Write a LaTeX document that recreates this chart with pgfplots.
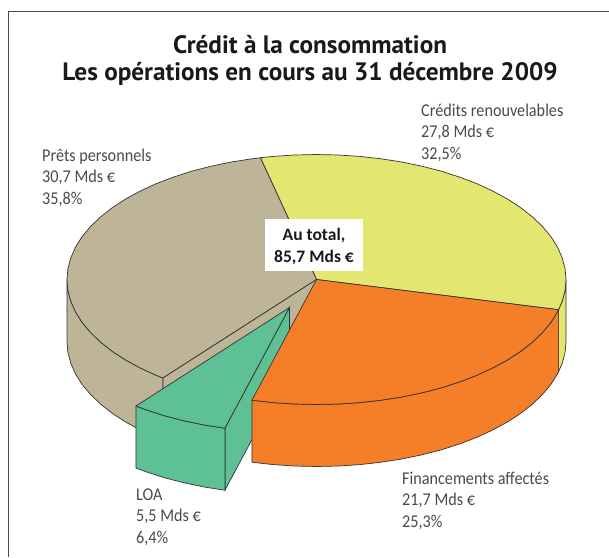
\documentclass[border=0pt]{standalone}
\usepackage{pgfplots}
\pgfplotsset{compat=1.18}
\usepackage{fontspec}
\setmainfont[FakeStretch=0.9]{Carlito}
\newfontfamily\boxfont{Carlito}
\newfontfamily\titlefont{PT Sans}
\definecolor{taupe}{HTML}{BEB498}
\definecolor{jaune}{HTML}{E3E76F}
\definecolor{orangec}{HTML}{F57F29}
\definecolor{vert}{HTML}{5DC195}
\definecolor{trait}{HTML}{333333}
\definecolor{texte}{HTML}{4A4A4A}
\begin{document}
\begin{tikzpicture}
\path[use as bounding box] (0,0) rectangle (609pt,557pt);
\begin{axis}[at={(0,0)},anchor=south west,hide axis,scale only axis,width=609pt,height=557pt,
  xmin=0,xmax=609,ymin=0,ymax=557,y dir=reverse,clip=false]
% frame
\addplot[draw=black!70,line width=1pt] coordinates {(609,11)(8,11)(8,557)};
% taupe side
\addplot[draw=trait,fill=taupe,line width=0.7pt] coordinates {(67,279.5)(67.9,290.4)(70.8,301.2)(75.5,311.9)(82,322.3)(90.4,332.3)(100.4,342)(112.1,351.2)(125.4,359.9)(140.1,367.9)(156.1,375.3)(162.9,378)(162.9,440)(156.1,437.3)(140.1,429.9)(125.4,421.9)(112.1,413.2)(100.4,404)(90.4,394.3)(82,384.3)(75.5,373.9)(70.8,363.2)(67.9,352.4)(67,341.5)} --cycle;
% yellow side
\addplot[draw=trait,fill=jaune,line width=0.7pt] coordinates {(558.6,309.7)(562.2,301.2)(565.1,290.4)(566,279.5)(566,341.5)(565.1,352.4)(562.2,363.2)(558.6,371.7)} --cycle;
% yellow top
\addplot[draw=trait,fill=jaune,line width=0.7pt] coordinates {(316.5,279.5)(558.6,309.7)(562.2,301.2)(565.1,290.4)(566,279.5)(565.1,268.6)(562.2,257.8)(557.5,247.1)(551,236.7)(542.6,226.7)(532.6,217)(520.9,207.8)(507.6,199.1)(492.9,191.1)(476.9,183.7)(459.6,177.1)(441.3,171.2)(421.9,166.2)(401.8,162)(381.1,158.8)(359.8,156.4)(338.3,155)(316.5,154.5)(294.7,155)(273.2,156.4)(260.4,157.7)} --cycle;
% taupe top
\addplot[draw=trait,fill=taupe,line width=0.7pt] coordinates {(316.5,279.5)(260.4,157.7)(251.9,158.8)(231.2,162)(211.1,166.2)(191.7,171.2)(173.4,177.1)(156.1,183.7)(140.1,191.1)(125.4,199.1)(112.1,207.8)(100.4,217)(90.4,226.7)(82,236.7)(75.5,247.1)(70.8,257.8)(67.9,268.6)(67,279.5)(67.9,290.4)(70.8,301.2)(75.5,311.9)(82,322.3)(90.4,332.3)(100.4,342)(112.1,351.2)(125.4,359.9)(140.1,367.9)(156.1,375.3)(162.9,378)} --cycle;
% cut face of the taupe slice
\addplot[draw=none,fill=taupe] coordinates {(316.5,279.5)(162.9,378)(162.9,392)(289.5,330)} --cycle;
\addplot[draw=trait,line width=0.7pt] coordinates {(316.5,279.5)(162.9,378)(162.9,392)};
% LOA right face
\addplot[draw=trait,fill=vert,line width=0.7pt] coordinates {(289.5,307.5)(224.9,428.2)(224.9,490.2)(289.5,369.5)} --cycle;
% LOA front face
\addplot[draw=trait,fill=vert,line width=0.7pt] coordinates {(135.9,406)(146.4,409.9)(164.7,415.8)(184.1,420.8)(204.2,425)(224.9,428.2)(224.9,490.2)(204.2,487)(184.1,482.8)(164.7,477.8)(146.4,471.9)(135.9,468)} --cycle;
% LOA top
\addplot[draw=trait,fill=vert,line width=0.7pt] coordinates {(289.5,307.5)(135.9,406)(146.4,409.9)(164.7,415.8)(184.1,420.8)(204.2,425)(224.9,428.2)} --cycle;
% orange side
\addplot[draw=trait,fill=orangec,line width=0.7pt] coordinates {(558.6,309.7)(557.5,311.9)(551,322.3)(542.6,332.3)(532.6,342)(520.9,351.2)(507.6,359.9)(492.9,367.9)(476.9,375.3)(459.6,381.9)(441.3,387.8)(421.9,392.8)(401.8,397)(381.1,400.2)(359.8,402.6)(338.3,404)(316.5,404.5)(294.7,404)(273.2,402.6)(251.9,400.2)(251.9,462.2)(273.2,464.6)(294.7,466)(316.5,466.5)(338.3,466)(359.8,464.6)(381.1,462.2)(401.8,459)(421.9,454.8)(441.3,449.8)(459.6,443.9)(476.9,437.3)(492.9,429.9)(507.6,421.9)(520.9,413.2)(532.6,404)(542.6,394.3)(551,384.3)(557.5,373.9)(558.6,371.7)} --cycle;
% orange top
\addplot[draw=trait,fill=orangec,line width=0.7pt] coordinates {(316.5,279.5)(558.6,309.7)(557.5,311.9)(551,322.3)(542.6,332.3)(532.6,342)(520.9,351.2)(507.6,359.9)(492.9,367.9)(476.9,375.3)(459.6,381.9)(441.3,387.8)(421.9,392.8)(401.8,397)(381.1,400.2)(359.8,402.6)(338.3,404)(316.5,404.5)(294.7,404)(273.2,402.6)(251.9,400.2)} --cycle;
% centre box
\addplot[draw=none,fill=white] coordinates {(265,219)(363,219)(363,271)(265,271)} --cycle;
% texts
\node[font=\boxfont\fontsize{17.5}{17.5}\selectfont\bfseries,text=black!90,align=center,inner sep=0] at (axis cs:314,246.5) {Au total,\\[4.5pt]85,7 Mds €};
\node[font=\titlefont\fontsize{25.2}{27}\selectfont\bfseries,text=black!90,align=center,inner sep=0] at (axis cs:310,60) {Crédit à la consommation\\Les opérations en cours au 31 décembre 2009};
\tikzset{lab/.style={anchor=north west,inner sep=0,align=left,text=texte,font=\fontsize{18}{21.5}\selectfont}}
\node[lab] at (axis cs:421,103.5) {Crédits renouvelables\\27,8 Mds €\\32,5\%};
\node[lab] at (axis cs:42,148.5) {Prêts personnels\\30,7 Mds €\\35,8\%};
\node[lab] at (axis cs:402,471.5) {Financements affectés\\21,7 Mds €\\25,3\%};
\node[lab] at (axis cs:136,488.5) {LOA\\5,5 Mds €\\6,4\%};
\end{axis}
\end{tikzpicture}
\end{document}
